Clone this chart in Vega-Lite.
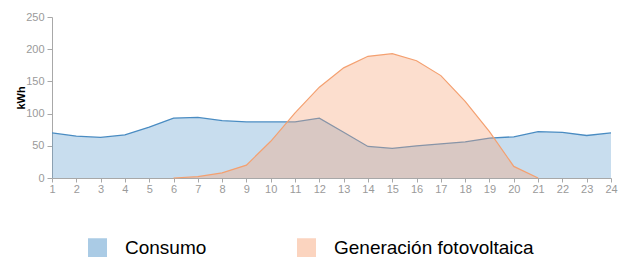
{
  "$schema": "https://vega.github.io/schema/vega-lite/v6.json",
  "width": 559,
  "height": 161,
  "autosize": {"type": "none"},
  "padding": {"left": 52, "top": 17, "right": 17, "bottom": 79},
  "background": "white",
  "config": {"view": {"stroke": null}, "font": "Liberation Sans"},
  "data": {"values": [
    {"hora": 1, "serie": "Consumo", "kwh": 70},
    {"hora": 2, "serie": "Consumo", "kwh": 65},
    {"hora": 3, "serie": "Consumo", "kwh": 63},
    {"hora": 4, "serie": "Consumo", "kwh": 67},
    {"hora": 5, "serie": "Consumo", "kwh": 79},
    {"hora": 6, "serie": "Consumo", "kwh": 93},
    {"hora": 7, "serie": "Consumo", "kwh": 94},
    {"hora": 8, "serie": "Consumo", "kwh": 89},
    {"hora": 9, "serie": "Consumo", "kwh": 87},
    {"hora": 10, "serie": "Consumo", "kwh": 87},
    {"hora": 11, "serie": "Consumo", "kwh": 87},
    {"hora": 12, "serie": "Consumo", "kwh": 93},
    {"hora": 13, "serie": "Consumo", "kwh": 71},
    {"hora": 14, "serie": "Consumo", "kwh": 49},
    {"hora": 15, "serie": "Consumo", "kwh": 46},
    {"hora": 16, "serie": "Consumo", "kwh": 50},
    {"hora": 17, "serie": "Consumo", "kwh": 53},
    {"hora": 18, "serie": "Consumo", "kwh": 56},
    {"hora": 19, "serie": "Consumo", "kwh": 62},
    {"hora": 20, "serie": "Consumo", "kwh": 64},
    {"hora": 21, "serie": "Consumo", "kwh": 72},
    {"hora": 22, "serie": "Consumo", "kwh": 71},
    {"hora": 23, "serie": "Consumo", "kwh": 66},
    {"hora": 24, "serie": "Consumo", "kwh": 70},
    {"hora": 6, "serie": "Generación fotovoltaica", "kwh": 0},
    {"hora": 7, "serie": "Generación fotovoltaica", "kwh": 2},
    {"hora": 8, "serie": "Generación fotovoltaica", "kwh": 8},
    {"hora": 9, "serie": "Generación fotovoltaica", "kwh": 20},
    {"hora": 10, "serie": "Generación fotovoltaica", "kwh": 57},
    {"hora": 11, "serie": "Generación fotovoltaica", "kwh": 101},
    {"hora": 12, "serie": "Generación fotovoltaica", "kwh": 141},
    {"hora": 13, "serie": "Generación fotovoltaica", "kwh": 171},
    {"hora": 14, "serie": "Generación fotovoltaica", "kwh": 189},
    {"hora": 15, "serie": "Generación fotovoltaica", "kwh": 193},
    {"hora": 16, "serie": "Generación fotovoltaica", "kwh": 182},
    {"hora": 17, "serie": "Generación fotovoltaica", "kwh": 159},
    {"hora": 18, "serie": "Generación fotovoltaica", "kwh": 119},
    {"hora": 19, "serie": "Generación fotovoltaica", "kwh": 72},
    {"hora": 20, "serie": "Generación fotovoltaica", "kwh": 18},
    {"hora": 21, "serie": "Generación fotovoltaica", "kwh": 0}
  ]},
  "encoding": {
    "x": {
      "field": "hora", "type": "quantitative",
      "scale": {"domain": [1, 24], "nice": false, "zero": false},
      "axis": {
        "values": [1,2,3,4,5,6,7,8,9,10,11,12,13,14,15,16,17,18,19,20,21,22,23,24],
        "title": null, "grid": false, "tickSize": 4, "labelPadding": 1,
        "labelColor": "#9a9a9a", "labelFontSize": 11, "labelFlush": false,
        "domainColor": "#a8a8a8", "tickColor": "#a8a8a8"
      }
    },
    "y": {
      "field": "kwh", "type": "quantitative", "stack": null,
      "scale": {"domain": [0, 250], "nice": false},
      "axis": {
        "values": [0, 50, 100, 150, 200, 250],
        "title": "kWh", "grid": false, "tickSize": 5, "labelPadding": 3,
        "labelColor": "#9a9a9a", "labelFontSize": 11,
        "domainColor": "#a8a8a8", "tickColor": "#a8a8a8",
        "titleFontWeight": "bold", "titleFontSize": 11, "titleColor": "#000000",
        "titleAngle": 270, "titleX": -31, "titleY": 80.5,
        "titleAlign": "center", "titleBaseline": "middle"
      }
    }
  },
  "layer": [
    {
      "transform": [{"filter": "datum.serie === 'Consumo'"}],
      "mark": {"type": "area", "fillOpacity": 0.3},
      "encoding": {
        "color": {
          "field": "serie", "type": "nominal",
          "scale": {"domain": ["Consumo", "Generación fotovoltaica"], "range": ["#4a90c8", "#f7a477"]},
          "legend": {
            "orient": "none", "direction": "horizontal", "legendX": 36, "legendY": 221,
            "title": null, "symbolType": "square", "symbolSize": 361, "symbolStrokeWidth": 0,
            "symbolOpacity": 0.47, "labelFontSize": 19, "labelColor": "#000000",
            "labelOffset": 18, "columnPadding": 90, "padding": 0, "labelLimit": 400
          }
        }
      }
    },
    {
      "transform": [{"filter": "datum.serie === 'Consumo'"}],
      "mark": {"type": "line", "color": "#4a8cc2", "strokeWidth": 1.3},
      "encoding": {}
    },
    {
      "transform": [{"filter": "datum.serie === 'Generación fotovoltaica'"}],
      "mark": {"type": "area", "fillOpacity": 0.36},
      "encoding": {
        "color": {"field": "serie", "type": "nominal"}
      }
    },
    {
      "transform": [{"filter": "datum.serie === 'Generación fotovoltaica'"}],
      "mark": {"type": "line", "color": "#f4a070", "strokeWidth": 1.2},
      "encoding": {}
    }
  ]
}
